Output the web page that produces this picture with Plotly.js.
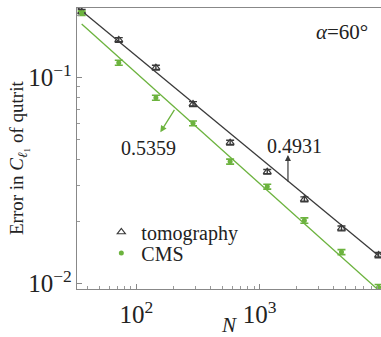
<!DOCTYPE html>
<html>
<head>
<meta charset="utf-8">
<script src="https://cdn.plot.ly/plotly-3.0.1.min.js"></script>
<style>html,body{margin:0;padding:0;background:#fff;}#chart{width:381px;height:337px;}</style>
</head>
<body>
<div id="chart"></div>
<script>
// Sample sizes N
var nValues = [36, 72, 144, 288, 576, 1152, 2304, 4608, 9216];
// Tomography error and its error bars
var tomoErr = [0.2080, 0.1517, 0.1113, 0.0742, 0.0482, 0.0348, 0.0256, 0.0185, 0.01374];
var tomoBar = [0.005, 0.004, 0.003, 0.002, 0.0013, 0.0009, 0.0007, 0.0005, 0.0004];
// CMS error and its error bars
var cmsErr = [0.2043, 0.1177, 0.0796, 0.0598, 0.0390, 0.0295, 0.0202, 0.0142, 0.00959];
var cmsBar = [0.005, 0.0033, 0.0022, 0.0016, 0.0011, 0.0008, 0.0006, 0.0004, 0.0003];
// Power-law fits: err = a * N^(-b)
var fitNames = ['tomography fit', 'CMS fit'];
var fitSlopes = [0.4931, 0.5359];
var fitPrefactors = [1.2284, 1.2358];
var fitRangesN = [[33, 9216], [36, 9216]];
var seriesNames = ['tomography', 'CMS'];
var slopeLabels = ['0.4931', '0.5359'];

var black = '#3a3a3a';
var green = '#6cb33e';
var serif = 'Liberation Serif, Times New Roman, serif';
var txt = '#222';

function fitLine(i) {
  var xs = fitRangesN[i];
  return {x: xs, y: xs.map(function (n) { return fitPrefactors[i] * Math.pow(n, -fitSlopes[i]); })};
}
var f0 = fitLine(0), f1 = fitLine(1);

var traces = [
  {x: f0.x, y: f0.y, mode: 'lines', line: {color: black, width: 1.3}, showlegend: false, hoverinfo: 'skip', name: fitNames[0]},
  {x: f1.x, y: f1.y, mode: 'lines', line: {color: green, width: 1.3}, showlegend: false, hoverinfo: 'skip', name: fitNames[1]},
  {x: nValues, y: tomoErr, name: seriesNames[0], mode: 'markers', legend: 'legend',
   marker: {symbol: 'triangle-up-open', size: 7, color: black, line: {width: 1.2, color: black}},
   error_y: {type: 'data', array: tomoBar, visible: true, color: black, thickness: 1.4, width: 4}},
  {x: nValues, y: cmsErr, name: seriesNames[1], mode: 'markers', legend: 'legend2',
   marker: {symbol: 'circle', size: 5, color: green},
   error_y: {type: 'data', array: cmsBar, visible: true, color: green, thickness: 1.6, width: 4}}
];

var L = Math.log10;
var legFont = {family: serif, size: 20, color: txt};
var layout = {
  width: 381, height: 337,
  margin: {l: 77, r: 0, t: 8, b: 48},
  paper_bgcolor: '#fff', plot_bgcolor: '#fff',
  font: {family: serif, size: 20, color: txt},
  showlegend: true,
  legend: {x: 0.08, y: (289 - 232) / 281, xanchor: 'left', yanchor: 'middle', bgcolor: 'rgba(0,0,0,0)',
           font: legFont, itemwidth: 30, borderwidth: 0},
  legend2: {x: 0.08, y: (289 - 253) / 281, xanchor: 'left', yanchor: 'middle', bgcolor: 'rgba(0,0,0,0)',
            font: legFont, itemwidth: 30, borderwidth: 0},
  xaxis: {
    type: 'log', range: [L(33), 3.984],
    tickmode: 'linear', tick0: 0, dtick: 1, exponentformat: 'power', showexponent: 'all',
    ticks: 'inside', ticklen: 5, tickcolor: '#888', tickwidth: 1, ticklabelstandoff: 4,
    minor: {dtick: 'D1', ticks: 'inside', ticklen: 3, tickcolor: '#999', showgrid: false},
    showline: true, linecolor: '#888', linewidth: 1.2, mirror: true,
    showgrid: false, zeroline: false,
    tickfont: {family: serif, size: 20, color: txt},
    title: {text: '<i>N</i>', font: {family: serif, size: 21, color: txt}, standoff: 0}
  },
  yaxis: {
    type: 'log', range: [-2.0267, -0.664],
    tickmode: 'linear', tick0: 0, dtick: 1, exponentformat: 'power', showexponent: 'all',
    ticks: 'inside', ticklen: 5, tickcolor: '#888', tickwidth: 1,
    minor: {dtick: 'D1', ticks: 'inside', ticklen: 3, tickcolor: '#999', showgrid: false},
    showline: true, linecolor: '#888', linewidth: 1.2, mirror: false,
    showgrid: false, zeroline: false,
    tickfont: {family: serif, size: 20, color: txt},
    title: {text: ''}
  },
  annotations: [
    {xref: 'paper', yref: 'paper', x: (18 - 77) / 304, y: (289 - 158) / 281, textangle: -90,
     xanchor: 'center', yanchor: 'middle', showarrow: false,
     text: 'Error in <i>C</i><sub><i>ℓ</i>₁</sub> of qutrit', font: {family: serif, size: 19, color: txt}},
    {xref: 'paper', yref: 'paper', x: (342 - 77) / 304, y: (289 - 32) / 281, xanchor: 'center', yanchor: 'middle',
     text: '<i>α</i>=60°', showarrow: false, font: {family: serif, size: 21, color: txt}},
    {xref: 'x', yref: 'y', x: L(124.7), y: L(0.0454), xanchor: 'center', yanchor: 'middle',
     text: slopeLabels[1], showarrow: false, font: {family: serif, size: 20, color: txt}},
    {xref: 'x', yref: 'y', x: L(156.5), y: L(0.0541), text: '', showarrow: true, ax: 15, ay: -24,
     arrowhead: 2, arrowsize: 1, arrowwidth: 1.3, arrowcolor: green},
    {xref: 'x', yref: 'y', x: L(1923), y: L(0.0464), xanchor: 'center', yanchor: 'middle',
     text: slopeLabels[0], showarrow: false, font: {family: serif, size: 20, color: txt}},
    {xref: 'x', yref: 'y', x: L(1696), y: L(0.04199), text: '', showarrow: true, ax: 0, ay: 28,
     arrowhead: 2, arrowsize: 1, arrowwidth: 1.2, arrowcolor: black}
  ]
};

Plotly.newPlot('chart', traces, layout, {staticPlot: true, displayModeBar: false});
</script>
</body>
</html>
